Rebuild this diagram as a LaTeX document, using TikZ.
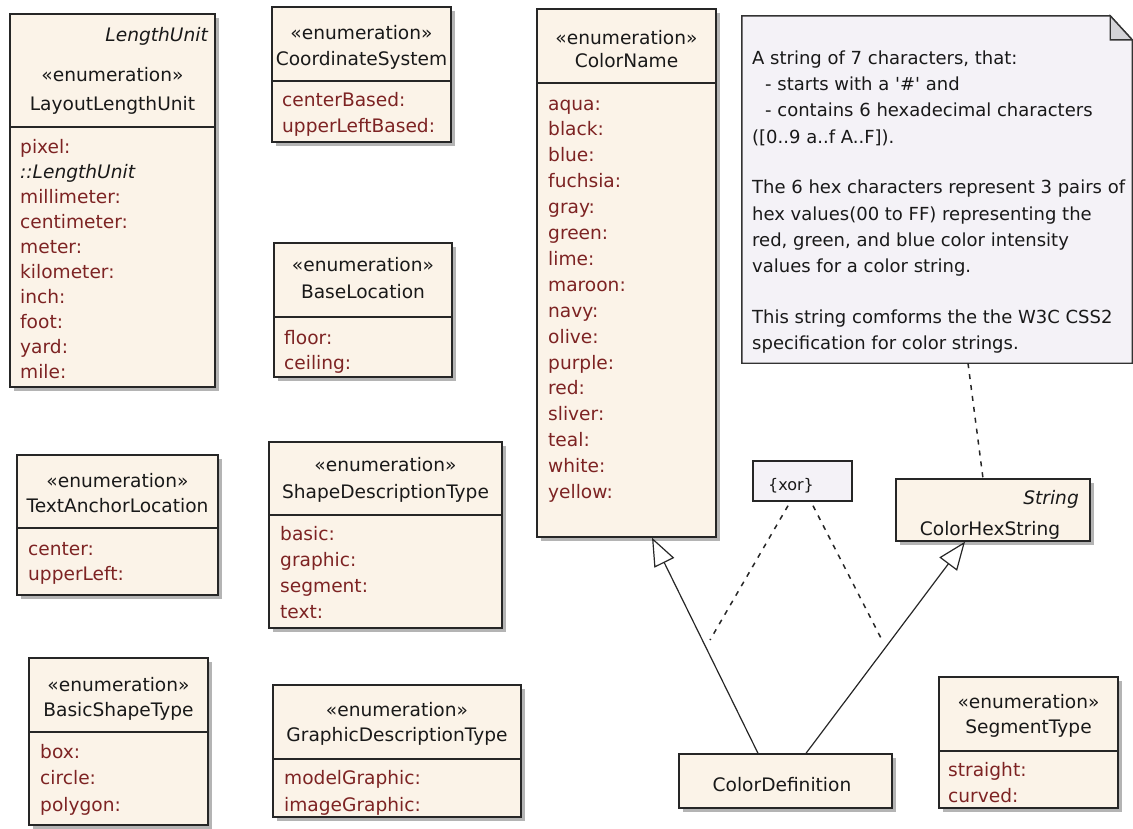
\documentclass[tikz,border=0pt]{standalone}
\usepackage{fontspec}
\setmainfont{DejaVu Sans}
\usetikzlibrary{fit,shadows,arrows.meta}
\definecolor{clsfill}{RGB}{251,243,232}
\definecolor{notefill}{RGB}{244,242,247}
\definecolor{attrred}{RGB}{125,35,35}
\definecolor{shade}{RGB}{180,180,180}
\definecolor{foldgray}{RGB}{212,212,216}
\newcommand{\enumtag}{«enumeration»}

\begin{document}
\begin{tikzpicture}[x=1pt, y=-1pt]
	\tikzstyle{cls}=[rectangle, draw=black!85, line width=1.4pt, fill=clsfill, inner sep=0pt, drop shadow={shadow xshift=4pt, shadow yshift=-4pt, fill=shade, opacity=1}]
	\tikzstyle{div}=[draw=black!85, line width=1.4pt]
	% multi-line nodes sit on the baseline of their last line
	\tikzstyle{hdr}=[anchor=base, align=center, inner sep=0pt, text=black!90, font=\fontsize{18.6}{26}\selectfont]
	\tikzstyle{tag}=[anchor=base east, inner sep=0pt, text=black!90, font=\fontsize{18.6}{26}\selectfont\itshape]
	\tikzstyle{attr}=[anchor=base west, align=left, inner sep=0pt, text=attrred, font=\fontsize{18.6}{25.8}\selectfont]
	\tikzstyle{notebox}=[draw=black!80, line width=1.4pt, fill=notefill]
	\tikzstyle{gen}=[-{Triangle[open, length=28pt, width=22pt]}, line width=1.2pt, draw=black!85]
	\tikzstyle{dotline}=[line width=1.5pt, draw=black!85, dash pattern=on 5pt off 6pt]
	\useasboundingbox (0,0) rectangle (1133,828);
	
	% left column
	\node[cls, fit={(10,14) (215,387)}] (llu) {};
	\draw[div] (10,127) -- (215,127);
	\node[tag] at (208,41) {LengthUnit};
	\node[hdr, font=\fontsize{18.6}{29}\selectfont] at (112.5,110) {\enumtag\\LayoutLengthUnit};
	\node[attr, font=\fontsize{18.6}{24.9}\selectfont] at (20,378) {pixel:\\{\color{black!90}\itshape ::LengthUnit}\\millimeter:\\centimeter:\\meter:\\kilometer:\\inch:\\foot:\\yard:\\mile:};
	
	\node[cls, fit={(17,455) (218,595)}] (tal) {};
	\draw[div] (17,528) -- (218,528);
	\node[hdr, font=\fontsize{18.6}{25}\selectfont] at (117.5,512) {\enumtag\\TextAnchorLocation};
	\node[attr, font=\fontsize{18.6}{25}\selectfont] at (28,580) {center:\\upperLeft:};
	
	\node[cls, fit={(29,658) (208,825)}] (bst) {};
	\draw[div] (29,732) -- (208,732);
	\node[hdr, font=\fontsize{18.6}{25}\selectfont] at (118.5,716) {\enumtag\\BasicShapeType};
	\node[attr, font=\fontsize{18.6}{26.5}\selectfont] at (40,811) {box:\\circle:\\polygon:};
	
	% middle column
	\node[cls, fit={(272,7) (451,142)}] (crd) {};
	\draw[div] (272,81) -- (451,81);
	\node[hdr] at (361.5,65) {\enumtag\\CoordinateSystem};
	\node[attr, font=\fontsize{18.6}{26}\selectfont] at (282,132) {centerBased:\\upperLeftBased:};
	
	\node[cls, fit={(274,243) (452,377)}] (bas) {};
	\draw[div] (274,317) -- (452,317);
	\node[hdr, font=\fontsize{18.6}{27}\selectfont] at (363,298) {\enumtag\\BaseLocation};
	\node[attr, font=\fontsize{18.6}{25}\selectfont] at (284,369) {floor:\\ceiling:};
	
	\node[cls, fit={(269,442) (502,628)}] (sdt) {};
	\draw[div] (269,515) -- (502,515);
	\node[hdr, font=\fontsize{18.6}{27}\selectfont] at (385.5,498) {\enumtag\\ShapeDescriptionType};
	\node[attr, font=\fontsize{18.6}{25.7}\selectfont] at (280,618) {basic:\\graphic:\\segment:\\text:};
	
	\node[cls, fit={(273,685) (521,817)}] (gdt) {};
	\draw[div] (273,759) -- (521,759);
	\node[hdr, font=\fontsize{18.6}{25}\selectfont] at (397,741) {\enumtag\\GraphicDescriptionType};
	\node[attr, font=\fontsize{18.6}{27}\selectfont] at (284,811) {modelGraphic:\\imageGraphic:};
	
	% colours
	\node[cls, fit={(537,9) (716,537)}] (cn) {};
	\draw[div] (537,83) -- (716,83);
	\node[hdr, font=\fontsize{18.6}{23}\selectfont] at (626.5,67) {\enumtag\\ColorName};
	\node[attr, font=\fontsize{18.6}{25.9}\selectfont] at (548,498.5) {aqua:\\black:\\blue:\\fuchsia:\\gray:\\green:\\lime:\\maroon:\\navy:\\olive:\\purple:\\red:\\sliver:\\teal:\\white:\\yellow:};
	
	\node[fit={(742,16) (1132,363)}, inner sep=0pt] (note) {};
	\draw[notebox] (note.north west) -- ([xshift=-22pt]note.north east) -- ([yshift=-24pt]note.north east) -- (note.south east) -- (note.south west) -- cycle;
	\draw[notebox, fill=foldgray] ([xshift=-22pt]note.north east) -- ([xshift=-22pt, yshift=-24pt]note.north east) -- ([yshift=-24pt]note.north east) -- cycle;
	\node[anchor=base west, align=left, inner sep=0pt, text=black!90, font=\fontsize{18}{26.4}\selectfont] (notetext) at (752,349.6) {A string of 7 characters, that:\\\hspace*{13pt}- starts with a \textquotesingle\#\textquotesingle{} and\\\hspace*{13pt}- contains 6 hexadecimal characters\\([0..9 a..f A..F]).\\[24pt]The 6 hex characters represent 3 pairs of\\hex values(00 to FF) representing the\\red, green, and blue color intensity\\values for a color string.\\[24pt]This string comforms the the W3C CSS2\\specification for color strings.};
	
	\node[notebox, draw=black!85, fit={(753,461) (852,501)}, inner sep=0pt] (xor) {};
	\node[anchor=base, inner sep=0pt, text=black!90, font=\fontsize{16}{20}\selectfont] (xorlbl) at (791,490) {\{xor\}};
	
	\node[cls, fit={(896,479) (1090,541)}] (chs) {};
	\node[tag] at (1079,504) {String};
	\node[hdr] at (990,535) {ColorHexString};
	
	\node[cls, fit={(679,754) (892,808)}] (cdef) {};
	\node[hdr] at (782,791) {ColorDefinition};
	
	\node[cls, fit={(939,677) (1118,808)}] (seg) {};
	\draw[div] (939,751) -- (1118,751);
	\node[hdr, font=\fontsize{18.6}{25}\selectfont] at (1028.5,733) {\enumtag\\SegmentType};
	\node[attr, font=\fontsize{18.6}{26}\selectfont] at (948,802) {straight:\\curved:};
	
	\coordinate (xl) at (710,640);
	\coordinate (xr) at (883,642);
	\path ([xshift=-27.5pt]cdef.north) edge[gen] ([xshift=25.5pt]cn.south)
	([xshift=20.5pt]cdef.north) edge[gen] ([xshift=-28pt]chs.south)
	([xshift=-14.5pt, yshift=-4pt]xor.south) edge[dotline] (xl)
	([xshift=10.5pt, yshift=-4pt]xor.south) edge[dotline] (xr)
	([xshift=31pt]note.south) edge[dotline] ([xshift=-10pt]chs.north);
\end{tikzpicture}
\end{document}
